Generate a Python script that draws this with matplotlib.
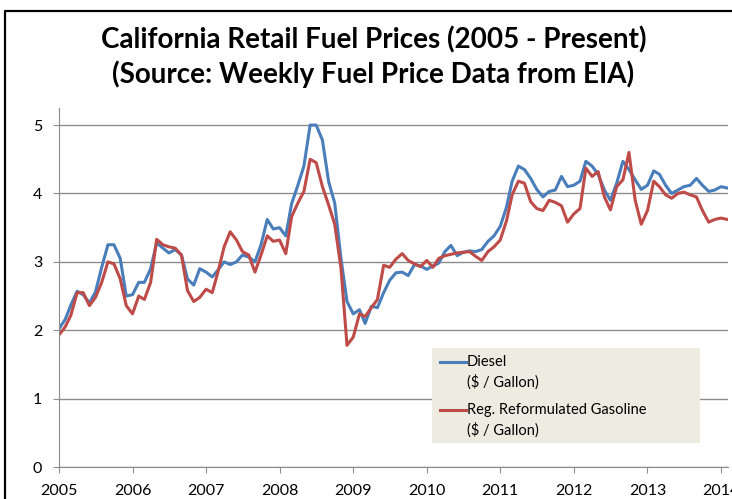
import matplotlib
matplotlib.use("Agg")
import matplotlib.pyplot as plt
from matplotlib.lines import Line2D
from matplotlib.patches import Rectangle
import pandas as pd

# monthly readings, Jan 2005 .. Feb 2014
months = pd.date_range("2005-01-01", periods=110, freq="MS")

diesel = [2.02, 2.16, 2.37, 2.57, 2.52, 2.40, 2.56, 2.92, 3.25, 3.25, 3.05, 2.50,
          2.52, 2.70, 2.70, 2.90, 3.28, 3.20, 3.13, 3.18, 3.10, 2.75, 2.66, 2.90,
          2.85, 2.78, 2.88, 3.00, 2.96, 3.00, 3.10, 3.07, 3.00, 3.25, 3.62, 3.48,
          3.50, 3.38, 3.85, 4.12, 4.40, 5.00, 5.00, 4.78, 4.17, 3.86, 3.05, 2.42,
          2.24, 2.30, 2.10, 2.35, 2.33, 2.55, 2.73, 2.84, 2.85, 2.80, 2.96, 2.94,
          2.89, 2.94, 2.98, 3.15, 3.24, 3.09, 3.14, 3.16, 3.15, 3.18, 3.30, 3.38,
          3.52, 3.80, 4.18, 4.40, 4.35, 4.22, 4.06, 3.95, 4.03, 4.05, 4.25, 4.10,
          4.12, 4.18, 4.47, 4.40, 4.28, 4.05, 3.90, 4.15, 4.47, 4.35, 4.20, 4.06,
          4.12, 4.33, 4.28, 4.12, 4.00, 4.05, 4.10, 4.12, 4.22, 4.12, 4.03, 4.05,
          4.10, 4.08]

gasoline = [1.93, 2.05, 2.22, 2.55, 2.55, 2.36, 2.48, 2.70, 3.00, 2.97, 2.75, 2.36,
            2.24, 2.50, 2.45, 2.70, 3.33, 3.25, 3.22, 3.20, 3.10, 2.58, 2.42, 2.48,
            2.60, 2.55, 2.85, 3.22, 3.44, 3.32, 3.15, 3.10, 2.85, 3.10, 3.38, 3.30,
            3.32, 3.12, 3.66, 3.86, 4.03, 4.50, 4.45, 4.10, 3.83, 3.55, 2.91, 1.78,
            1.90, 2.24, 2.20, 2.33, 2.45, 2.95, 2.92, 3.04, 3.12, 3.02, 2.97, 2.93,
            3.02, 2.92, 3.05, 3.09, 3.11, 3.13, 3.14, 3.15, 3.08, 3.02, 3.15, 3.22,
            3.32, 3.60, 3.98, 4.18, 4.15, 3.88, 3.78, 3.75, 3.90, 3.87, 3.82, 3.58,
            3.70, 3.78, 4.37, 4.25, 4.32, 3.95, 3.76, 4.10, 4.20, 4.60, 3.90, 3.55,
            3.75, 4.18, 4.10, 3.98, 3.93, 4.00, 4.02, 3.98, 3.95, 3.75, 3.58, 3.62,
            3.64, 3.62]

years = list(range(2005, 2015))

plt.rcParams["font.family"] = ["Lato", "DejaVu Sans"]

fig = plt.figure(figsize=(7.32, 4.99), dpi=100)
ax = fig.add_axes([0.0806, 0.0641, 0.914, 0.7195])

blue = "#4A7EBB"
red = "#BE4B48"
ax.plot(months, diesel, color=blue, lw=2.2)
ax.plot(months, gasoline, color=red, lw=2.2)

ax.set_ylim(0, 5.25)
ax.set_yticks([0, 1, 2, 3, 4, 5])
ax.set_xlim(pd.Timestamp("2005-01-01"), pd.Timestamp("2014-02-05"))
ax.set_xticks([pd.Timestamp(f"{y}-01-01") for y in years])
ax.set_xticklabels([str(y) for y in years])
ax.grid(axis="y", color="#8c8c8c", lw=1)
ax.set_axisbelow(True)
for s in ["top", "right"]:
    ax.spines[s].set_visible(False)
for s in ["left", "bottom"]:
    ax.spines[s].set_color("#8c8c8c")
ax.tick_params(axis="both", colors="#8c8c8c", labelcolor="black", labelsize=11.5, length=4)
ax.tick_params(axis="y", pad=8)
ax.tick_params(axis="x", pad=8)

fig.text(0.51, 0.92, "California Retail Fuel Prices (2005 - Present)", ha="center",
         va="center", fontsize=20, fontweight="bold")
fig.text(0.51, 0.852, "(Source: Weekly Fuel Price Data from EIA)", ha="center",
         va="center", fontsize=20, fontweight="bold")

# legend box
fig.add_artist(Rectangle((432 / 732, 1 - 443 / 499), 268 / 732, 95 / 499,
                         transform=fig.transFigure, facecolor="#EEECE1", edgecolor="none"))
for yy, col, lab in [(362, blue, "Diesel"), (410, red, "Reg. Reformulated Gasoline")]:
    fig.add_artist(Line2D([440 / 732, 466 / 732], [1 - yy / 499] * 2, color=col, lw=2.2,
                          transform=fig.transFigure))
    fig.text(467 / 732, 1 - yy / 499, lab, ha="left", va="center", fontsize=10.5)
    fig.text(467 / 732, 1 - (yy + 20) / 499, "($ / Gallon)", ha="left", va="center", fontsize=10.5)

# outer border of the chart area
fig.add_artist(Line2D([5 / 732, 5 / 732, 1], [0, 1 - 11 / 499, 1 - 11 / 499],
                      color="black", lw=1.6, transform=fig.transFigure))

fig.savefig("out.png", dpi=100)
